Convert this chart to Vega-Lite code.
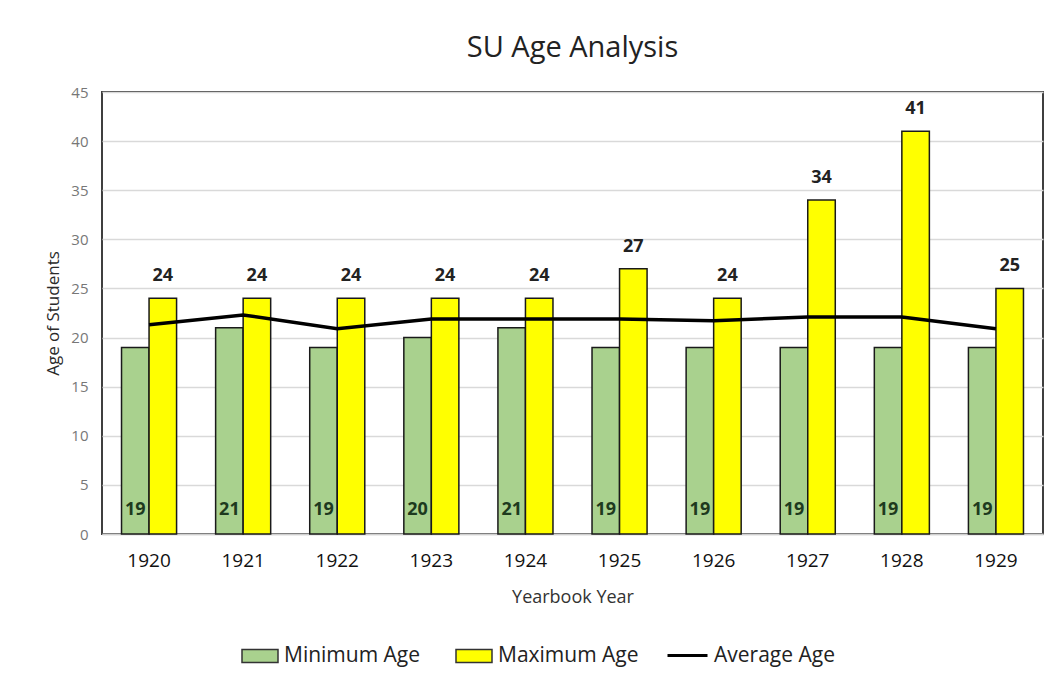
{
  "$schema": "https://vega.github.io/schema/vega-lite/v6.json",
  "width": 941,
  "height": 442,
  "padding": {"left": 44, "top": 34, "right": 16, "bottom": 10},
  "background": "white",
  "title": {"text": "SU Age Analysis", "fontSize": 29, "font": "Open Sans", "fontWeight": "normal", "color": "#222222", "offset": 22},
  "datasets": {
    "ages": [
      {"year": "1920", "series": "Minimum Age", "age": 19},
      {"year": "1920", "series": "Maximum Age", "age": 24},
      {"year": "1921", "series": "Minimum Age", "age": 21},
      {"year": "1921", "series": "Maximum Age", "age": 24},
      {"year": "1922", "series": "Minimum Age", "age": 19},
      {"year": "1922", "series": "Maximum Age", "age": 24},
      {"year": "1923", "series": "Minimum Age", "age": 20},
      {"year": "1923", "series": "Maximum Age", "age": 24},
      {"year": "1924", "series": "Minimum Age", "age": 21},
      {"year": "1924", "series": "Maximum Age", "age": 24},
      {"year": "1925", "series": "Minimum Age", "age": 19},
      {"year": "1925", "series": "Maximum Age", "age": 27},
      {"year": "1926", "series": "Minimum Age", "age": 19},
      {"year": "1926", "series": "Maximum Age", "age": 24},
      {"year": "1927", "series": "Minimum Age", "age": 19},
      {"year": "1927", "series": "Maximum Age", "age": 34},
      {"year": "1928", "series": "Minimum Age", "age": 19},
      {"year": "1928", "series": "Maximum Age", "age": 41},
      {"year": "1929", "series": "Minimum Age", "age": 19},
      {"year": "1929", "series": "Maximum Age", "age": 25}
    ],
    "avg": [
      {"year": "1920", "series": "Average Age", "age": 21.3},
      {"year": "1921", "series": "Average Age", "age": 22.3},
      {"year": "1922", "series": "Average Age", "age": 20.9},
      {"year": "1923", "series": "Average Age", "age": 21.9},
      {"year": "1924", "series": "Average Age", "age": 21.9},
      {"year": "1925", "series": "Average Age", "age": 21.9},
      {"year": "1926", "series": "Average Age", "age": 21.7},
      {"year": "1927", "series": "Average Age", "age": 22.1},
      {"year": "1928", "series": "Average Age", "age": 22.1},
      {"year": "1929", "series": "Average Age", "age": 20.9}
    ]
  },
  "encoding": {
    "x": {
      "field": "year", "type": "nominal",
      "scale": {"paddingInner": 0.415, "paddingOuter": 0.2075},
      "axis": {"title": "Yearbook Year", "labelAngle": 0, "labelFontSize": 19, "labelColor": "#111111", "labelPadding": 17, "ticks": false, "domainColor": "#d0d0d0", "domainWidth": 1.5, "titleFontSize": 18, "titleFontWeight": "normal", "titleColor": "#333333", "titlePadding": 18}
    }
  },
  "layer": [
    {
      "data": {"name": "ages"},
      "mark": {"type": "bar", "stroke": "#1a1a1a", "strokeWidth": 1.5},
      "encoding": {
        "xOffset": {"field": "series", "type": "nominal", "sort": ["Minimum Age", "Maximum Age"], "scale": {"paddingInner": 0}},
        "y": {
          "field": "age", "type": "quantitative",
          "scale": {"domain": [0, 45]},
          "axis": {"title": "Age of Students", "values": [0,5,10,15,20,25,30,35,40,45], "labelFontSize": 15, "labelColor": "#777777", "labelPadding": 14, "ticks": false, "domain": false, "gridColor": "#d9d9d9", "gridWidth": 1.5, "titleFontSize": 17, "titleFontWeight": 500, "titleColor": "#2a2a2a", "titlePadding": 8}
        },
        "fill": {
          "field": "series", "type": "nominal",
          "scale": {"domain": ["Minimum Age", "Maximum Age"], "range": ["#a9d18e", "#ffff00"]},
          "legend": {
            "title": null, "orient": "none", "direction": "horizontal",
            "legendX": 139, "legendY": 545,
            "labelFontSize": 21, "labelColor": "#222222", "labelFont": "Open Sans",
            "symbolType": "M-1,-0.36H1V0.36H-1Z", "symbolSize": 1296,
            "symbolStrokeColor": "#333333", "symbolStrokeWidth": 1.5,
            "labelOffset": 5, "columnPadding": 32
          }
        }
      }
    },
    {
      "data": {"name": "ages"},
      "transform": [{"filter": "datum.series === 'Maximum Age'"}],
      "mark": {"type": "text", "fontWeight": "bold", "fontSize": 18, "font": "Open Sans", "baseline": "middle", "dy": -22, "color": "#222222"},
      "encoding": {
        "xOffset": {"field": "series", "type": "nominal", "sort": ["Minimum Age", "Maximum Age"]},
        "y": {"field": "age", "type": "quantitative"},
        "text": {"field": "age", "type": "quantitative"}
      }
    },
    {
      "data": {"name": "ages"},
      "transform": [{"filter": "datum.series === 'Minimum Age'"}],
      "mark": {"type": "text", "fontWeight": "bold", "fontSize": 18, "font": "Open Sans", "baseline": "middle", "dy": -24, "color": "#1e3a1e"},
      "encoding": {
        "xOffset": {"field": "series", "type": "nominal", "sort": ["Minimum Age", "Maximum Age"]},
        "y": {"datum": 0, "type": "quantitative"},
        "text": {"field": "age", "type": "quantitative"}
      }
    },
    {
      "data": {"name": "avg"},
      "mark": {"type": "line", "strokeWidth": 3.5},
      "encoding": {
        "y": {"field": "age", "type": "quantitative"},
        "stroke": {
          "field": "series", "type": "nominal",
          "scale": {"domain": ["Average Age"], "range": ["#000000"]},
          "legend": {
            "title": null, "orient": "none", "direction": "horizontal",
            "legendX": 564, "legendY": 542,
            "labelFontSize": 21, "labelColor": "#222222", "labelFont": "Open Sans",
            "symbolType": "stroke", "symbolSize": 1600, "symbolStrokeWidth": 3,
            "labelOffset": 5
          }
        }
      }
    }
  ],
  "config": {
    "font": "Open Sans",
    "view": {"stroke": "#3f3f3f", "strokeWidth": 2}
  }
}
